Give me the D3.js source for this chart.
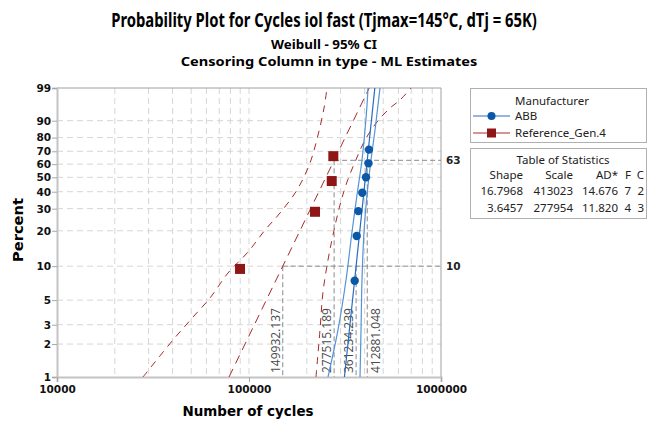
<!DOCTYPE html>
<html>
<head>
<meta charset="utf-8">
<script src="https://cdn.jsdelivr.net/npm/d3@7"></script>
<style>
  body { margin: 0; background: #fff; }
  svg { display: block; }
</style>
</head>
<body>
<div id="chart"></div>
<script>
// axis ticks
const percentTicks = [1, 2, 3, 5, 10, 20, 30, 40, 50, 60, 70, 80, 90, 99];
const cycleTicks = [10000, 100000, 1000000];

// series: [cycles, percent]
const seriesNames = ['ABB', 'Reference_Gen.4'];
const abbPoints = [[355300, 7.45], [363900, 18.09], [371000, 28.72], [389100, 39.36], [406800, 50.0], [419000, 60.64], [421500, 71.28]];
const refPoints = [[89800, 9.46], [220700, 28.38], [269700, 47.30], [274900, 66.22]];

// fitted lines and 95% CI curves
const abbFit = [[314100, 1], [452300, 99]];
const abbLower = [[257900, 1], [290700, 2.69], [320100, 7.56], [343900, 19.54], [365200, 37.89], [387700, 63.23], [402000, 84.89], [411800, 95.97], [416800, 99]];
const abbUpper = [[378600, 1], [383200, 2.69], [387700, 7.56], [397200, 19.54], [411800, 37.89], [431900, 63.23], [453200, 84.89], [469800, 95.97], [481200, 99]];
const refFit = [[78700, 1], [422600, 99]];
const refLower = [[28050, 1], [40200, 2.18], [51100, 3.52], [62640, 5.22], [77730, 8.71], [98800, 13.26], [121200, 20.29], [145000, 27.76], [177800, 41.11], [207800, 60.89], [228800, 81.72], [245900, 95.08], [254900, 99]];
const refUpper = [[223300, 1], [234300, 2.69], [242900, 5.91], [257900, 11.32], [273800, 18.45], [297800, 31.98], [323900, 46.61], [356600, 61.67], [402000, 78.32], [464200, 89.35], [542600, 95.08], [611600, 97.18], [698000, 99]];

// percentile reference lines
const refPercents = [10, 63];
const refCycles = [149932.137, 277515.189, 361234.239, 412881.048];
const refCyclePct = [10, 63, 10, 63];
const refCycleLabels = ['149932.137', '277515.189', '361234.239', '412881.048'];

// table of statistics
const statsHeader = ['Shape', 'Scale', 'AD*', 'F', 'C'];
const statsRows = [
  ['16.7968', '413023', '14.676', '7', '2'],
  ['3.6457', '277954', '11.820', '4', '3']
];

const width = 649, height = 421;
const plot = { left: 57, right: 441, top: 88, bottom: 377 };

const svg = d3.select('#chart').append('svg')
  .attr('width', width)
  .attr('height', height);

const x = d3.scaleLog().domain([10000, 1000000]).range([plot.left, plot.right]);
const wq = p => Math.log(-Math.log(1 - p / 100));
const yT = d3.scaleLinear().domain([wq(1), wq(99)]).range([plot.bottom, plot.top]);
const y = p => yT(wq(p));

// titles: fit each line horizontally to the width seen in the original
function squeezed(txt, cx, cy, size, targetWidth) {
  const g = svg.append('g');
  const t = g.append('text')
    .attr('text-anchor', 'middle')
    .attr('font-family', 'Noto Sans, sans-serif')
    .attr('font-weight', 'bold')
    .attr('font-size', size)
    .text(txt);
  const k = targetWidth / t.node().getComputedTextLength();
  g.attr('transform', `translate(${cx},${cy}) scale(${k},1)`);
}
squeezed('Probability Plot for Cycles iol fast (Tjmax=145°C, dTj = 65K)', 324, 27, 20, 426);
squeezed('Weibull - 95% CI', 324, 49, 13, 106);
squeezed('Censoring Column in type - ML Estimates', 329, 66, 13, 297);

// grid
const grid = svg.append('g');
grid.selectAll('line.v')
  .data(x.ticks().filter(d => d > 10000 && d < 1000000))
  .join('line')
  .attr('x1', d => x(d)).attr('x2', d => x(d))
  .attr('y1', plot.top).attr('y2', plot.bottom)
  .attr('stroke', '#d6d6d6').attr('stroke-dasharray', '6,4');
grid.selectAll('line.h')
  .data(percentTicks.filter(d => d > 1 && d < 99))
  .join('line')
  .attr('x1', plot.left).attr('x2', plot.right)
  .attr('y1', d => y(d)).attr('y2', d => y(d))
  .attr('stroke', '#d6d6d6').attr('stroke-dasharray', '6,4');

// frame top/right
svg.append('path')
  .attr('d', `M${plot.left},${plot.top}H${plot.right}V${plot.bottom}`)
  .attr('fill', 'none').attr('stroke', '#a0a0a0');

// axes
const yAxis = d3.axisLeft(yT)
  .tickValues(percentTicks.map(wq))
  .tickFormat((d, i) => percentTicks[i])
  .tickSize(5).tickPadding(1);
const gy = svg.append('g').attr('transform', `translate(${plot.left},0)`).call(yAxis);

const xAxis = d3.axisBottom(x)
  .tickValues(cycleTicks)
  .tickFormat(d3.format('d'))
  .tickSize(5).tickPadding(4);
const gx = svg.append('g').attr('transform', `translate(0,${plot.bottom})`).call(xAxis);

[gx, gy].forEach(g => {
  g.select('.domain').attr('stroke', '#c4c4c4').attr('stroke-width', 2);
  g.selectAll('.tick line').attr('stroke', '#a8a8a8');
  g.selectAll('.tick text')
    .attr('font-family', 'DejaVu Sans, sans-serif')
    .attr('font-weight', 'bold')
    .attr('font-size', 10.5)
    .attr('fill', '#111');
});

svg.append('text')
  .attr('transform', 'translate(23,230) rotate(-90)')
  .attr('text-anchor', 'middle')
  .attr('font-family', 'DejaVu Sans, sans-serif')
  .attr('font-weight', 'bold')
  .attr('font-size', 14)
  .attr('textLength', 64).attr('lengthAdjust', 'spacingAndGlyphs')
  .text('Percent');

svg.append('text')
  .attr('x', 248).attr('y', 416)
  .attr('text-anchor', 'middle')
  .attr('font-family', 'DejaVu Sans, sans-serif')
  .attr('font-weight', 'bold')
  .attr('font-size', 14)
  .attr('textLength', 131).attr('lengthAdjust', 'spacingAndGlyphs')
  .text('Number of cycles');

// reference lines
const refG = svg.append('g');
refG.selectAll('line.hr')
  .data(refPercents)
  .join('line')
  .attr('x1', (d, i) => x(refCycles[i]))
  .attr('x2', plot.right)
  .attr('y1', d => y(d)).attr('y2', d => y(d))
  .attr('stroke', '#8a8a8a').attr('stroke-dasharray', '5,3');
refG.selectAll('text.hr')
  .data(refPercents)
  .join('text')
  .attr('x', plot.right + 5)
  .attr('y', d => y(d) + 4)
  .attr('font-family', 'DejaVu Sans, sans-serif')
  .attr('font-weight', 'bold')
  .attr('font-size', 10.5)
  .attr('fill', '#222')
  .text(d => d);
refG.selectAll('line.vr')
  .data(refCycles)
  .join('line')
  .attr('x1', d => x(d)).attr('x2', d => x(d))
  .attr('y1', (d, i) => y(refCyclePct[i])).attr('y2', plot.bottom)
  .attr('stroke', '#8a8a8a').attr('stroke-dasharray', '5,3');
refG.selectAll('text.vr')
  .data(refCycles)
  .join('text')
  .attr('transform', (d, i) => {
    const px = i === 3 ? x(d) + 13 : x(d) - 3;
    return `translate(${px},${plot.bottom - 4}) rotate(-90)`;
  })
  .attr('font-family', 'Open Sans, sans-serif')
  .attr('font-size', 12)
  .attr('fill', '#4a4a4a')
  .text((d, i) => refCycleLabels[i]);

// curves
const line = d3.line().x(d => x(d[0])).y(d => y(d[1]));
const curve = d3.line().x(d => x(d[0])).y(d => y(d[1])).curve(d3.curveCatmullRom);

svg.append('defs').append('clipPath').attr('id', 'clip')
  .append('rect')
  .attr('x', plot.left).attr('y', plot.top)
  .attr('width', plot.right - plot.left).attr('height', plot.bottom - plot.top);

const lines = svg.append('g').attr('clip-path', 'url(#clip)');
[refLower, refUpper].forEach(d => {
  lines.append('path').attr('d', curve(d))
    .attr('fill', 'none').attr('stroke', '#a82a2a').attr('stroke-dasharray', '7,6');
});
lines.append('path').attr('d', line(refFit))
  .attr('fill', 'none').attr('stroke', '#a82a2a').attr('stroke-dasharray', '9,6');

[abbLower, abbUpper].forEach(d => {
  lines.append('path').attr('d', curve(d))
    .attr('fill', 'none').attr('stroke', '#5592d6').attr('stroke-width', 1.2);
});
lines.append('path').attr('d', line(abbFit))
  .attr('fill', 'none').attr('stroke', '#2a6cc0').attr('stroke-width', 1.2);

// points
svg.append('g').selectAll('rect')
  .data(refPoints)
  .join('rect')
  .attr('x', d => x(d[0]) - 5).attr('y', d => y(d[1]) - 5)
  .attr('width', 10).attr('height', 10)
  .attr('fill', '#8e1616');

svg.append('g').selectAll('circle')
  .data(abbPoints)
  .join('circle')
  .attr('cx', d => x(d[0])).attr('cy', d => y(d[1]))
  .attr('r', 4.2)
  .attr('fill', '#0b57a8');

// legend
const legend = svg.append('g').attr('font-family', 'Noto Sans, sans-serif').attr('font-size', 11.5).attr('fill', '#222');
legend.append('rect')
  .attr('x', 470.5).attr('y', 88.5).attr('width', 176).attr('height', 54)
  .attr('fill', 'none').attr('stroke', '#b0b0b0');
legend.append('text').attr('x', 515).attr('y', 104.5).text('Manufacturer');
const entries = legend.selectAll('g.entry')
  .data(seriesNames)
  .join('g')
  .attr('transform', (d, i) => `translate(0,${116 + i * 17})`);
entries.append('line')
  .attr('x1', 473).attr('x2', 510)
  .attr('stroke', (d, i) => i === 0 ? '#2a6cc0' : '#a82a2a');
entries.filter((d, i) => i === 0).append('circle')
  .attr('cx', 491.5).attr('r', 4).attr('fill', '#0b57a8');
entries.filter((d, i) => i === 1).append('rect')
  .attr('x', 487).attr('y', -4.5).attr('width', 9).attr('height', 9).attr('fill', '#8e1616');
entries.append('text').attr('x', 515).attr('y', 4).text(d => d);

const table = svg.append('g').attr('font-family', 'Noto Sans, sans-serif').attr('font-size', 11.5).attr('fill', '#222');
table.append('rect')
  .attr('x', 470.5).attr('y', 148.5).attr('width', 176).attr('height', 70)
  .attr('fill', 'none').attr('stroke', '#b0b0b0');
table.append('text').attr('x', 563).attr('y', 163.5).attr('text-anchor', 'middle').text('Table of Statistics');
const colRight = [523, 573, 618, 631, 644];
table.selectAll('text.head')
  .data(statsHeader)
  .join('text')
  .attr('x', (d, i) => colRight[i]).attr('y', 179)
  .attr('text-anchor', 'end')
  .text(d => d);
statsRows.forEach((row, r) => {
  table.selectAll(null)
    .data(row)
    .join('text')
    .attr('x', (d, i) => colRight[i]).attr('y', 195 + r * 16.5)
    .attr('text-anchor', 'end')
    .text(d => d);
});
</script>
</body>
</html>
